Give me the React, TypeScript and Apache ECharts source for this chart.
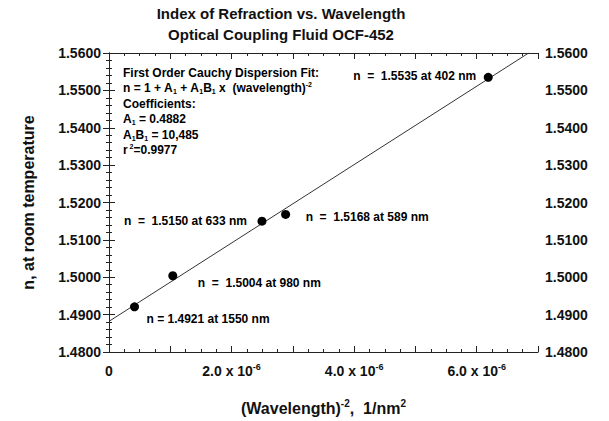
import React, { useEffect, useRef } from 'react';
import * as echarts from 'echarts';

// ---- data ----
const wavelengthNm = [1550, 980, 633, 589, 402];
const invWavelengthSq = [4.162e-7, 1.041e-6, 2.496e-6, 2.882e-6, 6.188e-6]; // (wavelength)^-2, 1/nm^2
const refractiveIndex = [1.4921, 1.5004, 1.515, 1.5168, 1.5535];
const pointLabels = [
  'n = 1.4921 at 1550 nm',
  'n  =  1.5004 at 980 nm',
  'n  =  1.5150 at 633 nm',
  'n  =  1.5168 at 589 nm',
  'n  =  1.5535 at 402 nm',
];
const coefA1 = 0.4882;
const coefA1B1 = 10485;
const rSquared = 0.9977;
const fitXRange = [0, 6.848e-6];
const xLabelledTicks = [0, 2, 4, 6]; // in units of 1e-6

// ---- layout/style (not data) ----
const FONT = "'Liberation Sans', Arial, Helvetica, sans-serif";
const INK = '#111';
const labelPlacement: Array<{ position: 'left' | 'right'; offset: [number, number] }> = [
  { position: 'right', offset: [7.5, 12] },
  { position: 'right', offset: [20.5, 7] },
  { position: 'left', offset: [-10.5, 0] },
  { position: 'right', offset: [15.5, 3] },
  { position: 'left', offset: [-7.5, -1] },
];

const annoRich = {
  b: { fontSize: 12, fontWeight: 'bold', fontFamily: FONT, color: INK, lineHeight: 14, verticalAlign: 'middle' },
  sub: { fontSize: 7, fontWeight: 'bold', fontFamily: FONT, color: INK, lineHeight: 6, verticalAlign: 'bottom' },
  sup: { fontSize: 7, fontWeight: 'bold', fontFamily: FONT, color: INK, lineHeight: 6, verticalAlign: 'top' },
};

export default function App() {
  const ref = useRef<HTMLDivElement>(null);
  useEffect(() => {
    if (!ref.current) return;
    const chart = echarts.init(ref.current, undefined, { renderer: 'svg' });

    const scatterData = invWavelengthSq.map((x, i) => ({
      value: [x, refractiveIndex[i]],
      name: String(wavelengthNm[i]),
      label: {
        show: true,
        formatter: pointLabels[i],
        position: labelPlacement[i].position,
        distance: 0,
        offset: labelPlacement[i].offset,
        color: '#000',
        opacity: 1,
        fontSize: 12,
        fontWeight: 'bold',
        fontFamily: FONT,
      },
    }));
    const fitData = fitXRange.map((x) => [x, 1 + coefA1 + coefA1B1 * x]);

    const axisLineStyle = { color: '#222', width: 1 };
    const xRich = {
      b: { fontSize: 14, fontWeight: 'bold', fontFamily: FONT, color: INK, lineHeight: 18, verticalAlign: 'middle' },
      sup: { fontSize: 9, fontWeight: 'bold', fontFamily: FONT, color: INK, lineHeight: 8, verticalAlign: 'top' },
    };
    const nameRich = {
      b: { fontSize: 16, fontWeight: 'bold', fontFamily: FONT, color: INK, lineHeight: 20, verticalAlign: 'middle' },
      sup: { fontSize: 10, fontWeight: 'bold', fontFamily: FONT, color: INK, lineHeight: 9, verticalAlign: 'top' },
    };
    const baseX = {
      type: 'value',
      min: 0,
      max: 7e-6,
      interval: 1e-6,
      axisLine: { show: true, lineStyle: axisLineStyle },
      axisTick: { show: true, inside: true, length: 6, lineStyle: axisLineStyle },
      minorTick: { show: true, splitNumber: 4, length: 3, lineStyle: axisLineStyle },
      splitLine: { show: false },
      minorSplitLine: { show: false },
    };
    const baseY = {
      type: 'value',
      min: 1.48,
      max: 1.56,
      interval: 0.01,
      axisLine: { show: true, lineStyle: axisLineStyle },
      axisTick: { show: true, inside: true, length: 6, lineStyle: axisLineStyle },
      minorTick: { show: true, splitNumber: 5, length: 3, lineStyle: axisLineStyle },
      splitLine: { show: false },
      minorSplitLine: { show: false },
    };
    const yLabel = {
      color: INK,
      fontSize: 14,
      fontWeight: 'bold',
      fontFamily: FONT,
      formatter: (v: number) => v.toFixed(4),
    };

    const annoLines = [
      { y: 73, text: '{b|First Order Cauchy Dispersion Fit:}' },
      { y: 88, text: '{b|n = 1 + A}{sub|1}{b| + A}{sub|1}{b|B}{sub|1}{b| x  (wavelength)}{sup|-2}' },
      { y: 104, text: '{b|Coefficients:}' },
      { y: 119, text: '{b|A}{sub|1}{b| = ' + coefA1.toFixed(4) + '}' },
      { y: 135, text: '{b|A}{sub|1}{b|B}{sub|1}{b| = ' + coefA1B1.toLocaleString('en-US') + '}' },
      { y: 150, text: '{b|r}{sup| 2}{b|=' + rSquared.toFixed(4) + '}' },
    ];

    chart.setOption({
      animation: false,
      backgroundColor: '#fff',
      title: {
        text: 'Index of Refraction vs. Wavelength',
        subtext: 'Optical Coupling Fluid OCF-452',
        left: 276,
        top: 1,
        textAlign: 'center',
        itemGap: 6,
        textStyle: { fontSize: 15, fontWeight: 'bold', color: INK, fontFamily: FONT },
        subtextStyle: { fontSize: 15, fontWeight: 'bold', color: INK, fontFamily: FONT },
      },
      grid: { left: 109, right: 71, top: 53, bottom: 67, containLabel: false },
      xAxis: [
        {
          ...baseX,
          position: 'bottom',
          axisLabel: {
            margin: 10,
            formatter: (v: number) => {
              const k = Math.round(v * 1e6);
              if (!xLabelledTicks.includes(k)) return '';
              if (k === 0) return '{b|0}';
              return `{b|${k}.0 x 10}{sup|-6}`;
            },
            rich: xRich,
          },
          name: '{b|(Wavelength)}{sup|-2}{b|,  1/nm}{sup|2}',
          nameLocation: 'middle',
          nameGap: 46,
          nameTextStyle: { rich: nameRich },
        },
        { ...baseX, position: 'top', axisLabel: { show: false } },
      ],
      yAxis: [
        {
          ...baseY,
          position: 'left',
          axisLabel: { ...yLabel, margin: 8 },
          name: 'n, at room temperature',
          nameLocation: 'middle',
          nameGap: 73,
          nameTextStyle: { fontSize: 16, fontWeight: 'bold', color: INK, fontFamily: FONT },
        },
        { ...baseY, position: 'right', axisLabel: { ...yLabel, margin: 7 } },
      ],
      series: [
        {
          type: 'line',
          data: fitData,
          symbol: 'none',
          lineStyle: { color: '#333', width: 1 },
          z: 2,
          silent: true,
        },
        {
          type: 'scatter',
          data: scatterData,
          symbol: 'circle',
          symbolSize: 9,
          itemStyle: { color: '#000', opacity: 1 },
          label: { show: true, color: '#000', fontSize: 12, fontWeight: 'bold', fontFamily: FONT },
          emphasis: { disabled: true },
          z: 3,
        },
      ],
      graphic: annoLines.map((l) => ({
        type: 'text',
        x: 123,
        y: l.y,
        style: { text: l.text, rich: annoRich, align: 'left', verticalAlign: 'middle' },
      })),
    });
    return () => chart.dispose();
  }, []);
  return <div ref={ref} style={{ position: 'fixed', left: 0, top: 0, width: 609, height: 421 }} />;
}
